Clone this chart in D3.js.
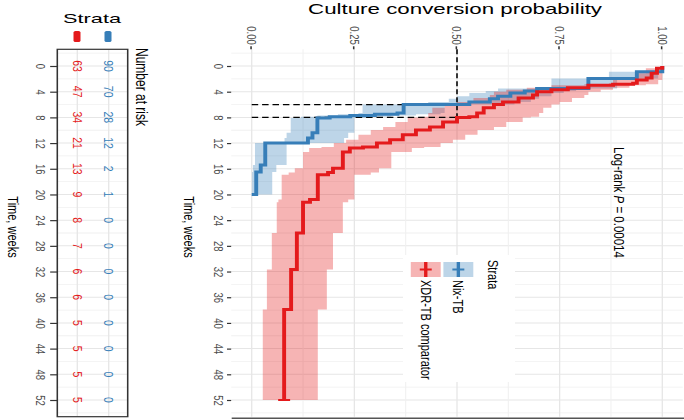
<!DOCTYPE html>
<meta charset="utf-8">
<script src="https://d3js.org/d3.v7.min.js"></script>
<style>
body { margin: 0; background: #fff; }
svg { font-family: "Liberation Sans", Arial, sans-serif; }
</style>
<div id="km"></div>
<script>
// Nix-TB (blue)
const nixTime = [0, 0.9, 1.95, 3.5, 3.9, 4.2, 4.7, 5.1, 5.6, 6.0, 7.3, 7.5, 7.7, 7.9, 8.1, 10.4, 11.2, 12.0, 15.4, 16.5, 20.0];
const nixSurv = [1, 0.938, 0.82, 0.695, 0.665, 0.63, 0.60, 0.58, 0.53, 0.37, 0.355, 0.30, 0.24, 0.19, 0.16, 0.148, 0.137, 0.033, 0.022, 0.011, 0];
const nixLow  = [1, 0.87, 0.73, 0.60, 0.57, 0.53, 0.50, 0.48, 0.43, 0.27, 0.26, 0.21, 0.16, 0.12, 0.095, 0.085, 0.08, 0.008, 0.003, 0.001, 0];
const nixHigh = [1, 0.99, 0.89, 0.79, 0.76, 0.73, 0.70, 0.68, 0.64, 0.47, 0.46, 0.40, 0.34, 0.28, 0.25, 0.235, 0.225, 0.085, 0.06, 0.05, 0];

// XDR-TB comparator (red)
const xdrTime = [0, 0.36, 1.14, 1.87, 2.18, 2.69, 2.85, 3.0, 3.4, 3.7, 4.0, 4.5, 5.0, 5.6, 6.0, 6.5, 7.3, 7.9, 8.0, 8.7, 9.5, 9.95, 10.7, 11.5, 12.0, 12.6, 12.75, 13.4, 15.9, 16.6, 16.95, 20.8, 21.2, 26.0, 31.7, 37.9, 52];
const xdrSurv = [1, 0.987, 0.974, 0.962, 0.938, 0.929, 0.88, 0.82, 0.77, 0.73, 0.695, 0.685, 0.65, 0.612, 0.59, 0.565, 0.549, 0.53, 0.50, 0.466, 0.434, 0.40, 0.368, 0.337, 0.305, 0.271, 0.239, 0.222, 0.198, 0.186, 0.161, 0.142, 0.125, 0.11, 0.096, 0.079, 0.079];
const xdrLow  = [1, 0.96, 0.94, 0.92, 0.88, 0.87, 0.81, 0.73, 0.67, 0.62, 0.59, 0.58, 0.54, 0.50, 0.47, 0.44, 0.43, 0.41, 0.38, 0.35, 0.32, 0.29, 0.26, 0.23, 0.20, 0.17, 0.14, 0.125, 0.105, 0.09, 0.073, 0.065, 0.061, 0.049, 0.037, 0.027, 0.027];
const xdrHigh = [1, 1, 1, 1, 0.99, 0.99, 0.96, 0.92, 0.88, 0.85, 0.82, 0.81, 0.78, 0.75, 0.73, 0.71, 0.70, 0.68, 0.66, 0.62, 0.59, 0.55, 0.52, 0.49, 0.46, 0.42, 0.39, 0.34, 0.31, 0.29, 0.25, 0.235, 0.222, 0.198, 0.183, 0.161, 0.161];

const medians = [6.0, 8.0];
const strata = ["Nix-TB", "XDR-TB comparator"];
const colors = ["#377eb8", "#e41a1c"];

// number at risk
const riskTimes = [0, 4, 8, 12, 16, 20, 24, 28, 32, 36, 40, 44, 48, 52];
const riskNix = [90, 70, 28, 12, 2, 1, 0, 0, 0, 0, 0, 0, 0, 0];
const riskXdr = [63, 47, 34, 21, 13, 9, 8, 7, 6, 6, 5, 5, 5, 5];
const probTicks = [0, 0.25, 0.5, 0.75, 1];

// the figure is drawn upright and then turned a quarter turn, and is stretched across
const W = 684, H = 420, K = 1.3;
const Y = X => (W - X) / K;   // page x -> inner y

const svg = d3.select("#km").append("svg").attr("width", W).attr("height", H);
const g = svg.append("g").attr("transform", `scale(${K},1) translate(${W / K},0) rotate(90)`);

const t = d3.scaleLinear().domain([0, 52]).range([66, 400]);
const p = d3.scaleLinear().domain([0, 1]).range([Y(251.7), Y(662.3)]);
const x0 = t(-2.6), x1 = t(54.6);
const pBot = p(-0.05), pTop = p(1.05);

// grid main panel
const grid = g.append("g");
d3.range(-2, 55, 4).forEach(v => grid.append("line").attr("x1", t(v)).attr("x2", t(v)).attr("y1", pTop).attr("y2", pBot).attr("stroke", "#f0f0f0").attr("stroke-width", 0.8));
riskTimes.forEach(v => grid.append("line").attr("x1", t(v)).attr("x2", t(v)).attr("y1", pTop).attr("y2", pBot).attr("stroke", "#e6e6e6").attr("stroke-width", 1));
[0.125, 0.375, 0.625, 0.875].forEach(v => grid.append("line").attr("x1", x0).attr("x2", x1).attr("y1", p(v)).attr("y2", p(v)).attr("stroke", "#f0f0f0").attr("stroke-width", 0.8));
probTicks.forEach(v => grid.append("line").attr("x1", x0).attr("x2", x1).attr("y1", p(v)).attr("y2", p(v)).attr("stroke", "#e6e6e6").attr("stroke-width", 1));

const series = [
  {time: nixTime, surv: nixSurv, low: nixLow, high: nixHigh},
  {time: xdrTime, surv: xdrSurv, low: xdrLow, high: xdrHigh}
].map(s => s.time.map((d, i) => ({t: d, s: s.surv[i], lo: s.low[i], hi: s.high[i]})));

const area = d3.area().x(d => t(d.t)).y0(d => p(d.lo)).y1(d => p(d.hi)).curve(d3.curveStepAfter);
const line = d3.line().x(d => t(d.t)).y(d => p(d.s)).curve(d3.curveStepAfter);

series.forEach((s, i) => g.append("path").attr("d", area(s)).attr("fill", colors[i]).attr("fill-opacity", 0.33));

// median lines
medians.forEach(m => g.append("path").attr("d", `M${t(m)},${p(0)}V${p(0.5)}`)
  .attr("stroke", "#000").attr("stroke-width", 1.2).attr("stroke-dasharray", "5,3").attr("fill", "none"));
g.append("path").attr("d", `M${x0},${p(0.5)}H${t(d3.max(medians))}`)
  .attr("stroke", "#000").attr("stroke-width", 1.2).attr("stroke-dasharray", "5,3").attr("fill", "none");

series.forEach((s, i) => g.append("path").attr("d", line(s)).attr("fill", "none")
  .attr("stroke", colors[i]).attr("stroke-width", 3));

// censor mark at end of red curve
const last = series[1][series[1].length - 1];
g.append("path").attr("d", `M${t(last.t)},${p(last.s) - 4.6}V${p(last.s) + 4.6}`)
  .attr("stroke", colors[1]).attr("stroke-width", 2);

// axes main
const ax1 = g.append("g").attr("transform", `translate(0,${pBot})`)
  .call(d3.axisBottom(t).tickValues(riskTimes).tickSize(3.2).tickPadding(3).tickFormat(d3.format("d")));
const ax2 = g.append("g").attr("transform", `translate(${x0},0)`)
  .call(d3.axisLeft(p).tickValues(probTicks).tickSize(3).tickPadding(1.5).tickFormat(d3.format(".2f")));
[ax1, ax2].forEach(a => {
  a.select(".domain").remove();
  a.selectAll("line").attr("stroke", "#333").attr("stroke-width", 1.2);
  a.selectAll("text").attr("fill", "#4d4d4d").attr("font-size", 9.5);
});

g.append("line").attr("x1", 418.3).attr("x2", 418.3).attr("y1", Y(W)).attr("y2", Y(231.7)).attr("stroke", "#555").attr("stroke-width", 1.5);

g.append("text").attr("transform", `translate(14,${Y(455)}) rotate(-90)`).attr("text-anchor", "middle")
  .attr("font-size", 14).attr("textLength", 294 / K).attr("lengthAdjust", "spacingAndGlyphs")
  .text("Culture conversion probability");
g.append("text").attr("x", 227).attr("y", Y(184)).attr("text-anchor", "middle").attr("font-size", 11).text("Time, weeks");

// legend in panel
const leg = g.append("g");
leg.append("rect").attr("x", 255).attr("y", Y(515)).attr("width", 127).attr("height", Y(403) - Y(515)).attr("fill", "#fff");
leg.append("text").attr("x", 260).attr("y", Y(488)).attr("font-size", 11).text("Strata");
const keyTop = [Y(473.3), Y(440.7)];
strata.forEach((s, i) => {
  const ky = keyTop[i], kh = 23, cy = ky + kh / 2;
  leg.append("rect").attr("x", 262).attr("y", ky).attr("width", 15).attr("height", kh).attr("fill", colors[i]).attr("fill-opacity", 0.33);
  leg.append("line").attr("x1", 262).attr("x2", 277).attr("y1", cy).attr("y2", cy).attr("stroke", colors[i]).attr("stroke-width", 2.6);
  leg.append("line").attr("x1", 269.5).attr("x2", 269.5).attr("y1", cy - 4.6).attr("y2", cy + 4.6).attr("stroke", colors[i]).attr("stroke-width", 2);
  leg.append("text").attr("x", 280).attr("y", cy).attr("dy", "0.35em").attr("font-size", 11).text(s);
});

const lr = g.append("text").attr("x", 147).attr("y", Y(619)).attr("dy", "0.35em").attr("font-size", 11.5);
lr.append("tspan").text("Log-rank ");
lr.append("tspan").attr("font-style", "italic").text("P");
lr.append("tspan").text(" = 0.00014");

// risk table
const rTop = Y(127.7), rBot = Y(57.3);
const row = d3.scaleOrdinal().domain(strata).range([Y(108.7), Y(77.3)]);
const rg = g.append("g");
d3.range(-2, 55, 4).forEach(v => rg.append("line").attr("x1", t(v)).attr("x2", t(v)).attr("y1", rTop).attr("y2", rBot).attr("stroke", "#f0f0f0").attr("stroke-width", 0.8));
riskTimes.forEach(v => rg.append("line").attr("x1", t(v)).attr("x2", t(v)).attr("y1", rTop).attr("y2", rBot).attr("stroke", "#e6e6e6").attr("stroke-width", 1));
strata.forEach(s => rg.append("line").attr("x1", x0).attr("x2", x1).attr("y1", row(s)).attr("y2", row(s)).attr("stroke", "#e6e6e6").attr("stroke-width", 1));

[riskNix, riskXdr].forEach((vals, i) => {
  rg.selectAll(null).data(vals).join("text")
    .attr("x", (d, j) => t(riskTimes[j])).attr("y", row(strata[i])).attr("dy", "0.35em")
    .attr("text-anchor", "middle").attr("font-size", 10.5).attr("fill", colors[i]).text(d => d);
});
rg.append("rect").attr("x", x0).attr("y", rTop).attr("width", x1 - x0).attr("height", rBot - rTop)
  .attr("fill", "none").attr("stroke", "#333").attr("stroke-width", 1.2);

const ax3 = g.append("g").attr("transform", `translate(0,${rBot})`)
  .call(d3.axisBottom(t).tickValues(riskTimes).tickSize(5.5).tickPadding(3.8).tickFormat(d3.format("d")));
ax3.select(".domain").remove();
ax3.selectAll("line").attr("stroke", "#333").attr("stroke-width", 1.2);
ax3.selectAll("text").attr("fill", "#4d4d4d").attr("font-size", 9.5);

g.append("text").attr("x", 227).attr("y", Y(7.5)).attr("text-anchor", "middle").attr("font-size", 11).text("Time, weeks");
g.append("text").attr("x", 48).attr("y", Y(136)).attr("font-size", 12).text("Number at risk");

// risk table legend
g.append("text").attr("transform", `translate(23,${Y(92)}) rotate(-90)`).attr("text-anchor", "middle")
  .attr("font-size", 12).attr("textLength", 58 / K).attr("lengthAdjust", "spacingAndGlyphs").text("Strata");
strata.forEach((s, i) => {
  const cx = [108, 77][i];
  g.append("rect").attr("x", 31).attr("y", Y(cx + 3.5)).attr("width", 11).attr("height", 7 / K)
    .attr("rx", 1.5).attr("fill", colors[i]);
});
</script>
